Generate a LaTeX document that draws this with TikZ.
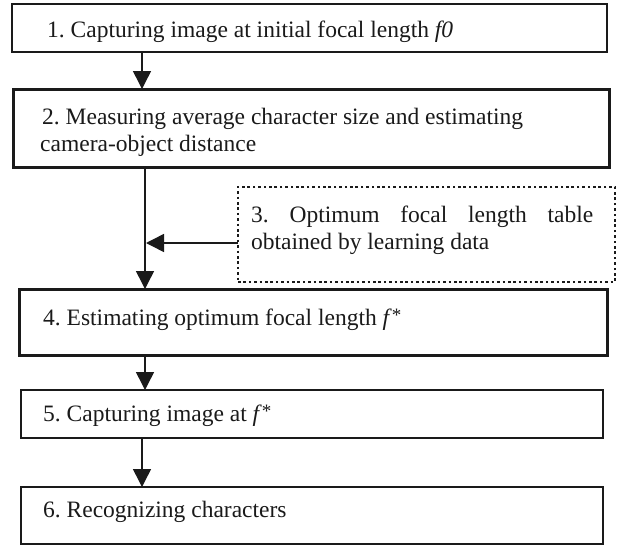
\documentclass[tikz,border=0pt]{standalone}
\usepackage{fontspec}
\setmainfont{Liberation Serif}
\usetikzlibrary{arrows.meta}
\definecolor{ink}{HTML}{1A1A1A}
\frenchspacing
\newcommand{\fstar}{\textit{f}\raisebox{4pt}{\fontsize{19}{20}\selectfont *}}
\begin{document}
\begin{tikzpicture}[x=1pt,y=-1pt,
  box/.style={draw=ink, line width=1.5pt, inner sep=0pt, outer sep=0pt, anchor=north west},
  thickbox/.style={box, line width=3pt},
  dotbox/.style={box, line width=2.6pt, dash pattern=on 2.6pt off 2.8pt},
  lbl/.style={anchor=base west, inner sep=0pt, text=ink, font=\fontsize{23.5}{27}\selectfont},
  conn/.style={draw=ink, line width=1.5pt, -{Triangle[length=18pt,width=18pt]}}]
\fill[white] (0,0) rectangle (620,546);
\path[use as bounding box] (0,0) rectangle (620,546);
% boxes
\node[box, minimum width=595pt, minimum height=48pt] (b1) at (12,4) {};
\node[thickbox, minimum width=596pt, minimum height=78pt] (b2) at (13,89) {};
\node[dotbox, minimum width=377pt, minimum height=95pt] (b3) at (238,187) {};
\node[thickbox, minimum width=588pt, minimum height=66pt] (b4) at (19,289) {};
\node[box, minimum width=582pt, minimum height=48pt] (b5) at (21,390) {};
\node[box, minimum width=582pt, minimum height=57pt] (b6) at (21,487) {};
% texts
\node[lbl] (t1) at (47,37) {1. Capturing image at initial focal length \textit{f0}};
\node[lbl] (t2a) at (42,124) {2. Measuring average character size and estimating};
\node[lbl] (t2b) at (40,151) {camera-object distance};
\node[lbl] (t3a) at (251,222) {\makebox[342pt][s]{3. Optimum focal length table}};
\node[lbl] (t3b) at (251,249) {obtained by learning data};
\node[lbl] (t4) at (43,325) {4. Estimating optimum focal length \fstar};
\node[lbl] (t5) at (43,421) {5. Capturing image at \fstar};
\node[lbl] (t6) at (43,517) {6. Recognizing characters};
% connectors
\coordinate (xa) at (142,0);
\coordinate (xb) at (145,0);
\coordinate (j) at (146,243);
\draw[conn] (b1.south -| xa) -- (b2.north -| xa);
\draw[conn] (b2.south -| xb) -- (b4.north -| xb);
\draw[conn] (b3.west |- j) -- (j);
\draw[conn] (b4.south -| xb) -- (b5.north -| xb);
\draw[conn] (b5.south -| xa) -- (b6.north -| xa);
\end{tikzpicture}
\end{document}
